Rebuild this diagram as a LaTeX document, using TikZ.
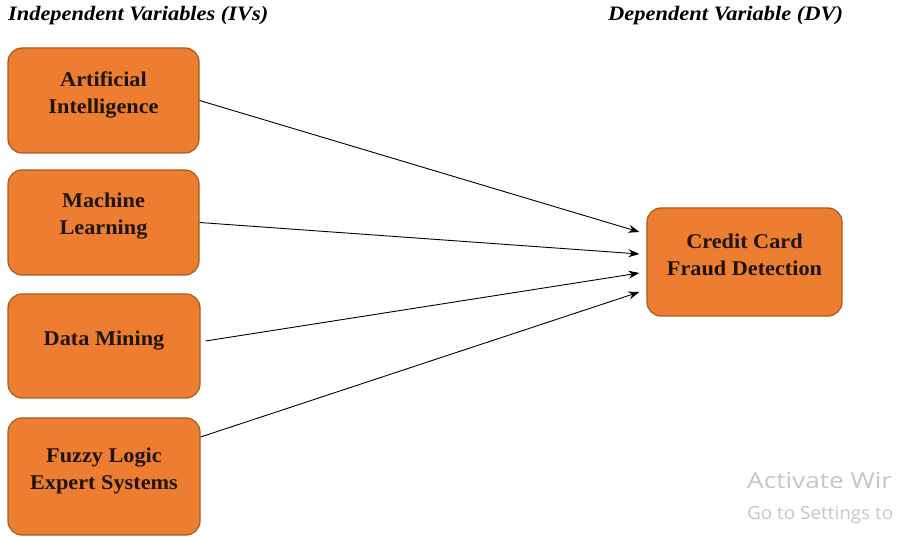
\documentclass[tikz,border=0pt]{standalone}
\usepackage{fontspec}
\setmainfont{Liberation Serif}[BoldFont={Liberation Serif Bold},ItalicFont={Liberation Serif Italic},BoldItalicFont={Liberation Serif Bold Italic}]
\newfontfamily\wmfont{Open Sans}
\usetikzlibrary{arrows.meta,calc}
\definecolor{boxfill}{HTML}{ED7D31}
\definecolor{boxline}{HTML}{A85A1E}
\definecolor{wmgray}{HTML}{C6C6C6}
\definecolor{boxtext}{HTML}{1E1408}
\newcommand{\sx}[1]{\scalebox{1.06}[1]{#1}}
\begin{document}
\begin{tikzpicture}[x=1pt,y=-1pt,
  varbox/.style={draw=boxline, line width=1.2pt, fill=boxfill, rounded corners=14pt, inner sep=0pt},
  vartext/.style={font=\bfseries\fontsize{21}{27}\selectfont, align=center, text=boxtext, inner sep=0pt},
  heading/.style={font=\bfseries\itshape\fontsize{20.5}{24}\selectfont, anchor=base west, inner sep=0pt},
  link/.style={-{Stealth[length=11pt,width=8pt]}, line width=0.9pt},
  wm/.style={text=wmgray, anchor=base west, inner sep=0pt}]
\useasboundingbox (0,0) rectangle (898,537);

\node[heading] (ivh) at (8,20.5) {\resizebox{260pt}{\height}{Independent Variables (IVs)}};
\node[heading] (dvh) at (608,20.5) {\resizebox{235pt}{\height}{Dependent Variable (DV)}};

\node[varbox, minimum width=191pt, minimum height=105pt] (ai) at (103.5,100.5) {};
\node[varbox, minimum width=191pt, minimum height=105pt] (ml) at (103.5,222.5) {};
\node[varbox, minimum width=192pt, minimum height=104pt] (dm) at (104,346) {};
\node[varbox, minimum width=192pt, minimum height=117pt] (fl) at (104,476.5) {};
\node[varbox, minimum width=195pt, minimum height=108pt] (dv) at (744.5,262) {};

\node[vartext] (ait) at ($(ai.center)+(0,-6)$) {\sx{Artificial}\\\sx{Intelligence}};
\node[vartext] (mlt) at ($(ml.center)+(0,-6)$) {\sx{Machine}\\\sx{Learning}};
\node[vartext] (dmt) at ($(dm.center)+(0,-5)$) {\sx{Data Mining}};
\node[vartext] (flt) at ($(fl.center)+(0,-6)$) {\sx{Fuzzy Logic}\\\sx{Expert Systems}};
\node[vartext] (dvt) at ($(dv.center)+(0,-7.5)$) {\sx{Credit Card}\\\sx{Fraud Detection}};

\draw[link] (ai.east) -- ($(dv.west)+(-7,-30)$);
\draw[link] (ml.east) -- ($(dv.west)+(-7,-8)$);
\draw[link] ($(dm.east)+(5,-5)$) -- ($(dv.west)+(-7,11)$);
\draw[link] ($(fl.east)+(0,-39.5)$) -- ($(dv.west)+(-7,30)$);

\node[wm, font=\wmfont\fontsize{22}{26}\selectfont] (wm1) at (747,489) {\resizebox{145pt}{\height}{Activate Wir}};
\node[wm, font=\wmfont\fontsize{18}{22}\selectfont] (wm2) at (747,519) {\resizebox{146pt}{\height}{Go to Settings to}};
\end{tikzpicture}
\end{document}
